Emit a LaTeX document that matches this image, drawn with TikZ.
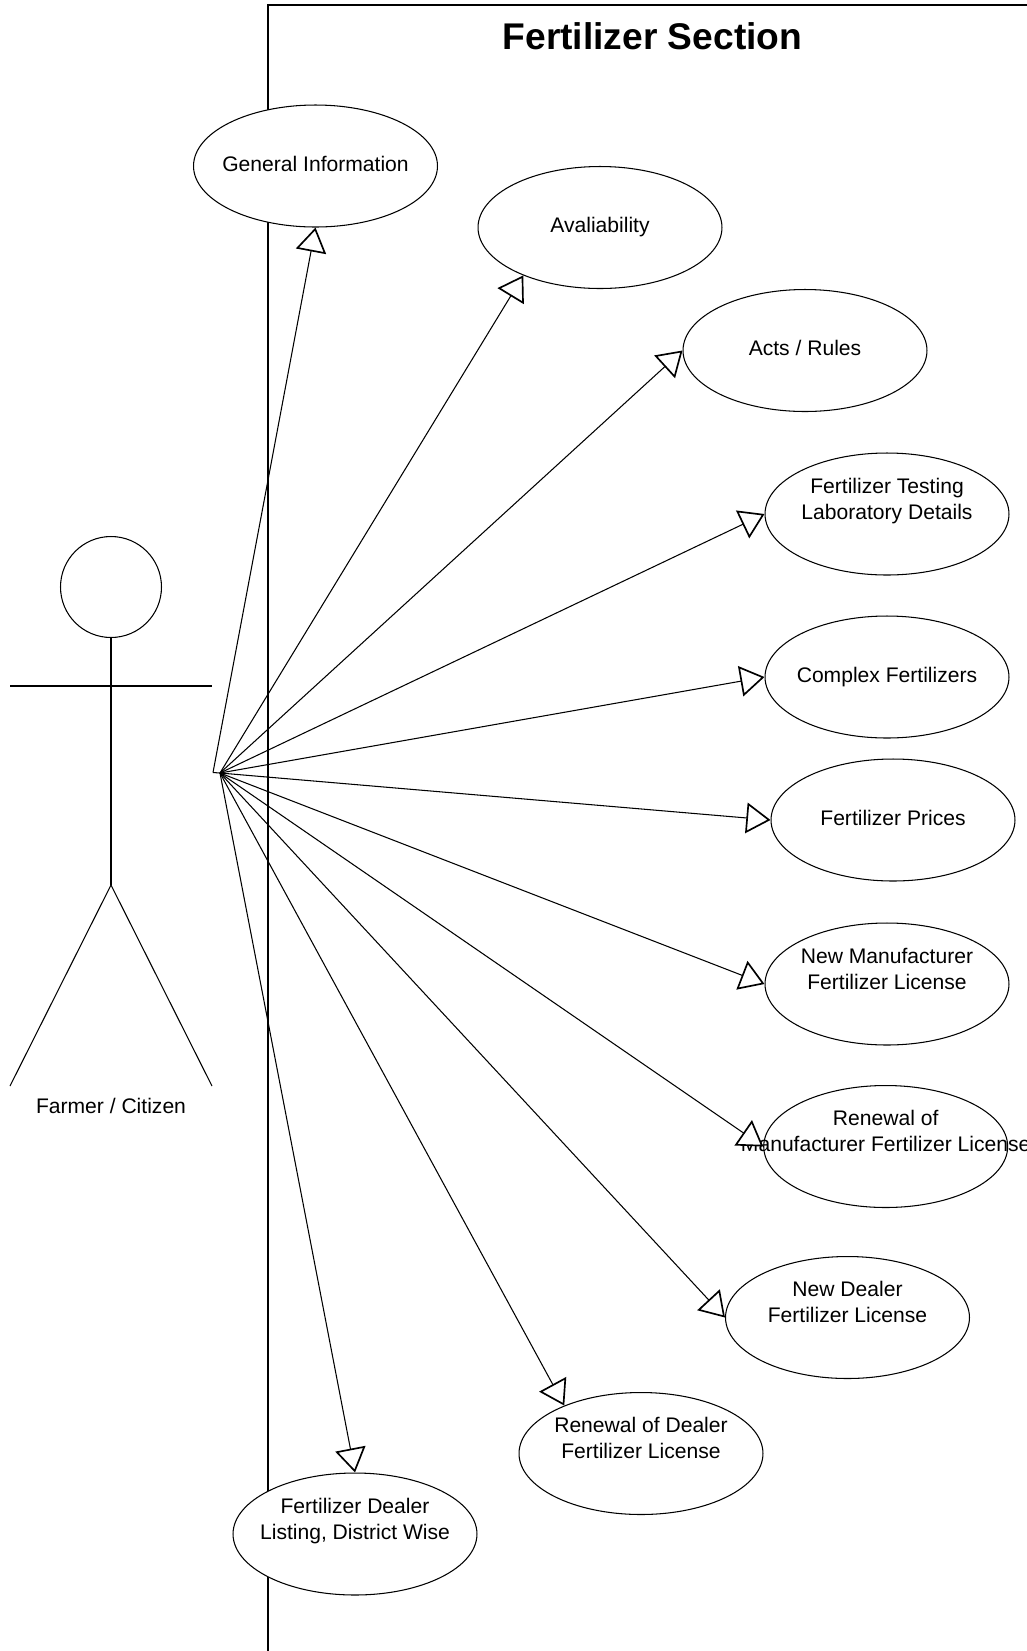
\documentclass[tikz,border=0pt]{standalone}
\usepackage{fontspec}
\setmainfont{Liberation Sans}
\usepackage{tikz}
\usetikzlibrary{arrows.meta,shapes.geometric}

\begin{document}
\begin{tikzpicture}[x=0.02cm, y=-0.02cm, line width=0.6pt,
    usecase/.style={ellipse,draw,fill=white,inner sep=0pt,minimum width=4.88cm,minimum height=2.44cm},
    casetext/.style={align=center,inner sep=0pt,text height=8.6pt,text depth=2.6pt,font=\fontsize{12}{14.9}\selectfont},
    extends/.style={-{Triangle[open,fill=white,length=13.8pt,width=17.4pt,line width=0.95pt]}},
    frame/.style={line width=0.95pt}]
    \useasboundingbox (0,0) rectangle (1027,1651);

    \coordinate (FRAMEB) at (268,1651);
    \coordinate (FRAMEC) at (268,5);
    \coordinate (FRAMER) at (1027,5);
    \draw[frame] (FRAMEB) -- (FRAMEC) -- (FRAMER);

    \node[inner sep=0pt,font=\fontsize{21.15}{25}\selectfont\bfseries] (TITLE) at (652.5,36) {Fertilizer Section};

    \node[circle,draw,inner sep=0pt,minimum size=2.02cm] (HEAD) at (111,587) {};
    \coordinate (HIP) at (111,885);
    \coordinate (ARML) at (10,686);
    \coordinate (ARMR) at (212,686);
    \coordinate (FOOTL) at (10,1086);
    \coordinate (FOOTR) at (212,1086);
    \coordinate (ACTORA) at (213,772.5);
    \coordinate (ACTORB) at (220,773);

    \draw (HEAD.south) -- (HIP);
    \draw (ARML) -- (ARMR);
    \draw (HIP) -- (FOOTL);
    \draw (HIP) -- (FOOTR);

    \node[casetext] (TEXT0) at (111,1108) {Farmer / Citizen};

    \node[usecase] (GENERAL) at (315.5,166) {};
    \node[usecase] (AVAIL) at (600,227.5) {};
    \node[usecase] (ACTS) at (805,350.5) {};
    \node[usecase] (TESTING) at (887,514) {};
    \node[usecase] (COMPLEX) at (887,677) {};
    \node[usecase] (PRICES) at (893,820) {};
    \node[usecase] (NEWMANU) at (887,984) {};
    \node[usecase] (RENEWMANU) at (885.7,1146.5) {};
    \node[usecase] (NEWDEAL) at (847.5,1317.5) {};
    \node[usecase] (RENEWDEAL) at (641,1453.5) {};
    \node[usecase] (LISTING) at (355,1534) {};

    \node[casetext] (TEXT1) at (GENERAL) {General Information};
    \node[casetext] (TEXT2) at (AVAIL) {Avaliability};
    \node[casetext] (TEXT3) at (ACTS) {Acts / Rules};
    \node[casetext] (TEXT4) at (TESTING) {Fertilizer Testing\\Laboratory Details};
    \node[casetext] (TEXT5) at (COMPLEX) {Complex Fertilizers};
    \node[casetext] (TEXT6) at (PRICES) {Fertilizer Prices};
    \node[casetext] (TEXT7) at (NEWMANU) {New Manufacturer\\Fertilizer License};
    \node[casetext] (TEXT8) at (RENEWMANU) {Renewal of\\Manufacturer Fertilizer License};
    \node[casetext] (TEXT9) at (NEWDEAL) {New Dealer\\Fertilizer License};
    \node[casetext] (TEXT10) at (RENEWDEAL) {Renewal of Dealer\\Fertilizer License};
    \node[casetext] (TEXT11) at (LISTING) {Fertilizer Dealer\\Listing, District Wise};

    \draw (ACTORA) -- (ACTORB);
    \draw[extends] (ACTORA) -- (GENERAL.south);
    \draw[extends] (ACTORB) -- (AVAIL.212);
    \draw[extends] (ACTORB) -- (ACTS.west);
    \draw[extends] (ACTORB) -- (TESTING.west);
    \draw[extends] (ACTORB) -- (COMPLEX.west);
    \draw[extends] (ACTORB) -- (PRICES.west);
    \draw[extends] (ACTORB) -- (NEWMANU.west);
    \draw[extends] (ACTORB) -- (RENEWMANU.west);
    \draw[extends] (ACTORB) -- (NEWDEAL.west);
    \draw[extends] (ACTORB) -- (RENEWDEAL.148);
    \draw[extends] (ACTORB) -- (LISTING.north);
\end{tikzpicture}
\end{document}
